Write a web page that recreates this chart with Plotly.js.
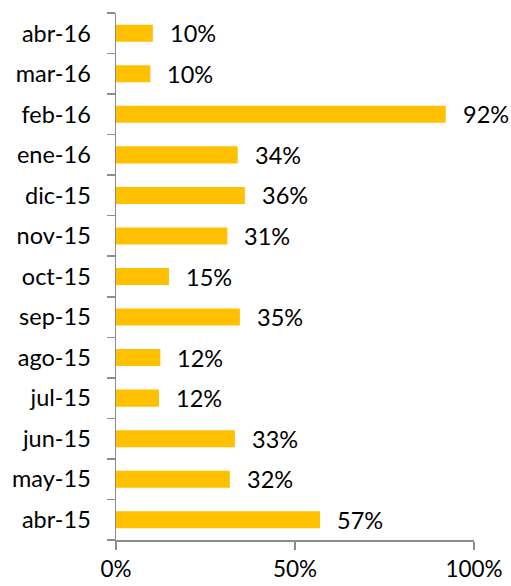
<!DOCTYPE html>
<html>
<head>
<meta charset="utf-8">
<script src="https://cdn.plot.ly/plotly-3.0.1.min.js"></script>
<style>html,body{margin:0;padding:0;background:#fff;}#chart{width:511px;height:586px;}</style>
</head>
<body>
<div id="chart"></div>
<script>
const months = ["abr-15","may-15","jun-15","jul-15","ago-15","sep-15","oct-15","nov-15","dic-15","ene-16","feb-16","mar-16","abr-16"];
const values = [57.0, 31.8, 33.2, 12.0, 12.4, 34.6, 14.8, 31.1, 36.0, 34.0, 92.1, 9.6, 10.3];
const labels = ["57%","32%","33%","12%","12%","35%","15%","31%","36%","34%","92%","10%","10%"];
const xTickVals = [0, 50, 100];
const xTickText = ["0%","50%","100%"];

const font = {family: "Lato, 'Open Sans', sans-serif", size: 23.5, color: "#000"};
const axisColor = "#8c8c8c";

const annotations = months.map((m, i) => ({
  x: values[i], y: m, xref: "x", yref: "y",
  text: labels[i], showarrow: false, xanchor: "left", yanchor: "middle",
  xshift: 15, font: font
}));

Plotly.newPlot("chart", [{
  type: "bar", orientation: "h",
  x: values, y: months,
  marker: {color: "#FFC000"},
  hoverinfo: "none"
}], {
  width: 511, height: 586,
  margin: {l: 116, r: 37, t: 13, b: 46},
  paper_bgcolor: "#fff", plot_bgcolor: "#fff",
  bargap: 0.58,
  showlegend: false,
  font: font,
  xaxis: {
    range: [0, 100], tickvals: xTickVals, ticktext: xTickText,
    showgrid: false, zeroline: false,
    showline: true, linecolor: axisColor, linewidth: 1.5,
    ticks: "outside", ticklen: 8, tickcolor: axisColor, tickwidth: 1.5,
    ticklabelstandoff: 0,
    tickfont: {family: font.family, size: 22.5, color: "#000"}, fixedrange: true
  },
  yaxis: {
    type: "category", categoryorder: "array", categoryarray: months,
    showgrid: false, zeroline: false,
    showline: true, linecolor: axisColor, linewidth: 1.5,
    ticks: "outside", ticklen: 8, tickcolor: axisColor, tickwidth: 1.5,
    tickson: "boundaries",
    ticklabelstandoff: 19,
    tickfont: font, fixedrange: true
  },
  annotations: annotations
}, {displayModeBar: false, staticPlot: true});
</script>
</body>
</html>
